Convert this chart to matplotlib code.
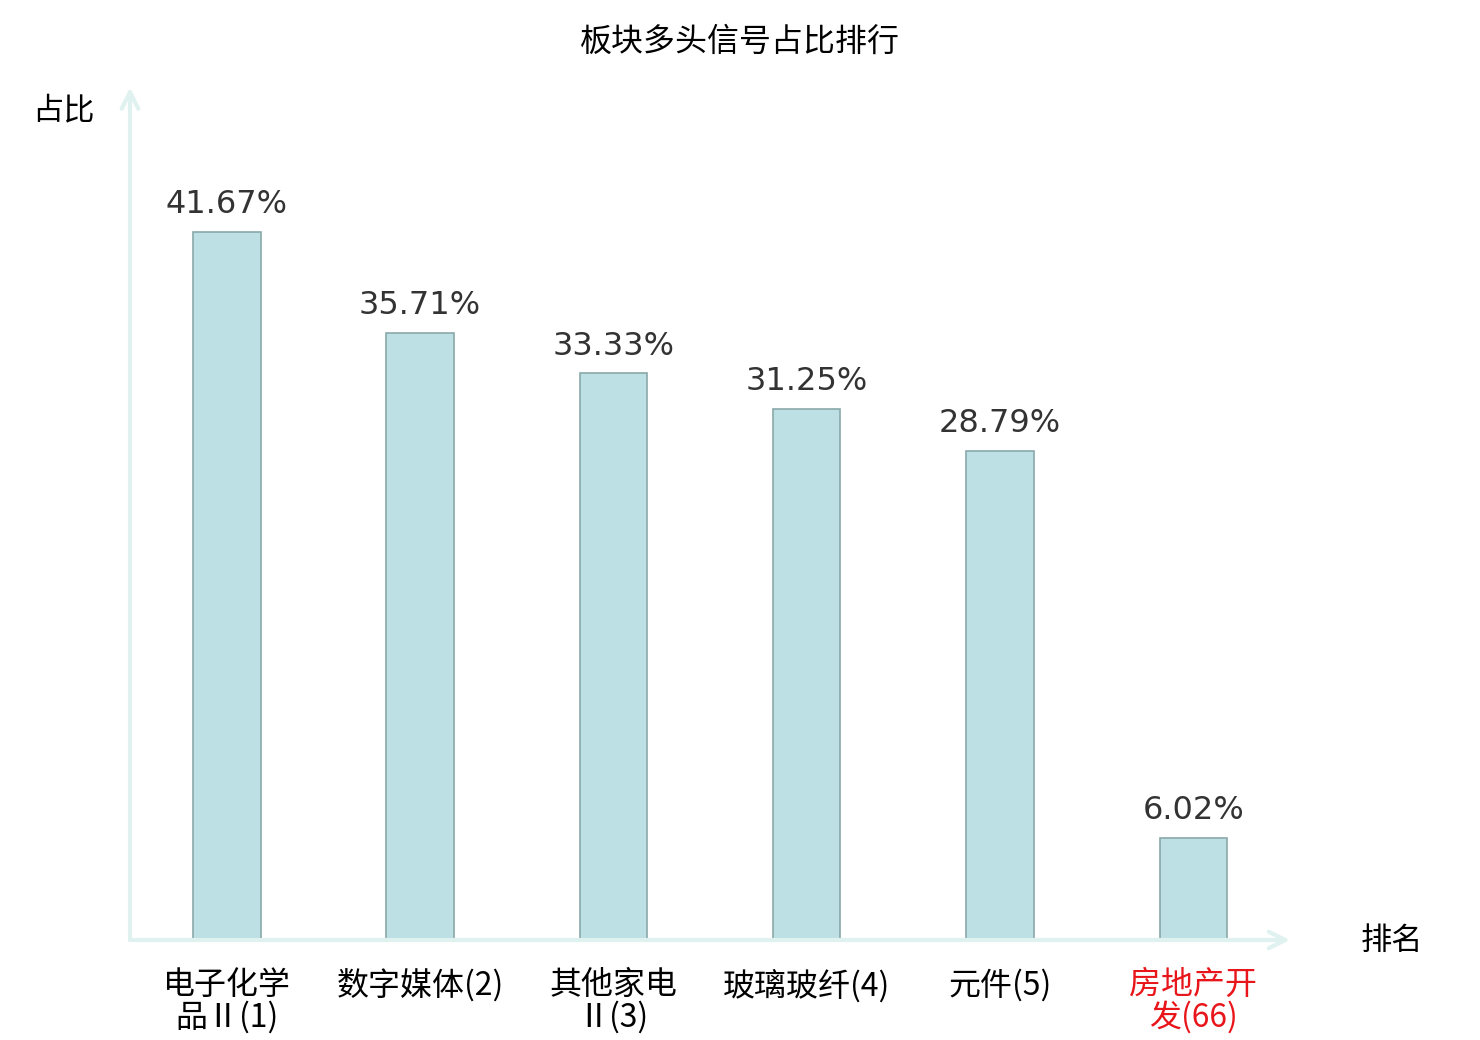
import numpy as np
import matplotlib.pyplot as plt

plt.rcParams['font.family'] = ['Noto Sans CJK SC', 'DejaVu Sans']

# data
sectors = ['电子化学\n品Ⅱ(1)', '数字媒体(2)', '其他家电\nⅡ(3)', '玻璃玻纤(4)', '元件(5)', '房地产开\n发(66)']
ratios = [41.67, 35.71, 33.33, 31.25, 28.79, 6.02]
highlight = [False, False, False, False, False, True]

fig = plt.figure(figsize=(14.8, 10.4), dpi=100)
ax = fig.add_axes([130 / 1480, 100 / 1040, 1160 / 1480, 850 / 1040])

x = np.arange(len(sectors))
ax.bar(x, ratios, width=0.35, color='#bce0e3', edgecolor='#8aa8aa', linewidth=1.2, zorder=3)

for xi, v in zip(x, ratios):
    ax.annotate(f'{v:.2f}%', (xi, v), xytext=(0, 13.5), textcoords='offset points',
                ha='center', va='baseline', fontsize=23, color='#333333', family='DejaVu Sans')

ax.set_xlim(-0.5, 5.5)
ax.set_ylim(0, 50)
for s in ax.spines.values():
    s.set_visible(False)
ax.set_yticks([])
ax.set_xticks(x)
ax.set_xticklabels(sectors, fontsize=23, linespacing=1.0)
ax.tick_params(axis='x', length=0, pad=21)
for lab, h in zip(ax.get_xticklabels(), highlight):
    if h:
        lab.set_color('#e8161b')

# axis arrows
axis_col = '#dff2f0'
ax.annotate('', xy=(0, 1.003), xytext=(0, 0), xycoords='axes fraction',
            arrowprops=dict(arrowstyle='->', color=axis_col, lw=3, mutation_scale=30,
                            shrinkA=0, shrinkB=0), annotation_clip=False)
ax.annotate('', xy=(1.0, 0), xytext=(0, 0), xycoords='axes fraction',
            arrowprops=dict(arrowstyle='->', color=axis_col, lw=3, mutation_scale=30,
                            shrinkA=0, shrinkB=0), annotation_clip=False)

fig.text(740 / 1480, 1 - 42 / 1040, '板块多头信号占比排行', ha='center', va='center', fontsize=23)
fig.text(63 / 1480, 1 - 110 / 1040, '占比', ha='center', va='center', fontsize=22.5)
fig.text(1392 / 1480, 1 - 941 / 1040, '排名', ha='center', va='center', fontsize=22.5)

fig.savefig('out.png', dpi=100)
